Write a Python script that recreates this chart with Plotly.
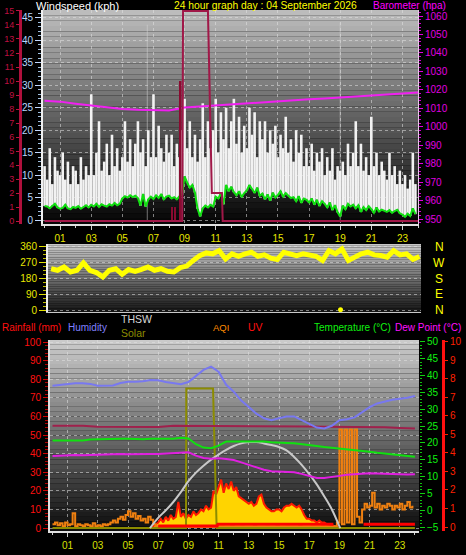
import plotly.graph_objects as go

W, H = 466, 555
def px(x): return x / W
def py(y): return 1 - y / H

FONT = "Liberation Sans"

# ---------------- DATA ----------------
# Top panel: wind (kph), 10-minute samples
wind_avg = [
    3.1, 3.0, 2.6, 3.2, 3.6, 2.8,   2.5, 2.7, 3.4, 2.6, 2.4, 2.9,
    2.7, 3.1, 2.5, 2.9, 3.3, 2.8,   3.4, 3.0, 3.6, 2.9, 3.5, 3.2,
    3.0, 3.5, 3.2, 3.8, 3.3, 3.6,   4.8, 5.3, 5.0, 5.5, 5.1, 5.4,
    4.9, 3.2, 5.8, 3.0, 4.6, 5.2,   4.7, 5.5, 4.9, 5.8, 4.6, 5.2,
    5.4, 4.8, 5.1, 4.6, 5.3, 5.6,   9.7, 8.3, 7.2, 7.8, 6.1, 2.5,
    0.8, 2.6, 3.2, 2.8, 3.4, 3.0,   5.2, 4.8, 6.0, 3.5, 7.8, 6.4,
    7.4, 6.2, 5.5, 6.4, 5.1, 6.0,   6.6, 7.8, 6.9, 6.0, 7.2, 5.4,
    5.9, 4.6, 5.7, 4.3, 6.1, 5.0,   5.6, 6.4, 5.2, 6.0, 5.4, 4.9,
    5.1, 4.2, 5.3, 3.8, 4.8, 4.5,   3.9, 4.8, 3.4, 4.5, 3.1, 4.2,
    3.6, 2.8, 3.9, 2.2, 3.3, 1.7,   0.8, 3.2, 2.4, 3.6, 3.0, 3.4,
    2.6, 3.3, 1.8, 2.9, 2.2, 3.1,   2.4, 1.6, 2.8, 1.9, 2.3, 2.1,
    1.8, 2.2, 1.6, 2.0, 2.3, 1.5,   1.2, 0.7, 1.4, 0.9, 2.6, 1.3,
]
wind_gust = [
    12, 9, 16, 8, 14, 11,    10, 15, 9, 13, 8, 12,
    11, 8, 14, 9, 12, 10,    28, 10, 15, 22, 11, 13,
    17, 10, 19, 12, 16, 11,  14, 22, 13, 18, 12, 17,
    22, 15, 18, 12, 20, 14,  28, 14, 21, 16, 13, 19,
    15, 19, 12, 17, 14, 20,  27, 16, 22, 14, 19, 13,
    18, 26, 14, 22, 16, 20,  27, 15, 24, 18, 25, 16,
    22, 27, 17, 23, 15, 21,  16, 25, 19, 24, 14, 22,
    18, 22, 15, 20, 17, 21,  14, 19, 16, 23, 15, 18,
    13, 20, 15, 19, 12, 16,  12, 17, 11, 15, 13, 16,
    10, 14, 11, 16, 9, 12,   11, 13, 10, 17, 12, 15,
    22, 12, 17, 11, 14, 10,  23, 12, 15, 10, 13, 11,
    9, 15, 10, 12, 8, 11,    8, 10, 7, 9, 15, 8,
]
wind_hours = [i / 6 for i in range(len(wind_avg))]
gust_max_hours = [6.6, 19.0]
gust_max_vals = [43.5, 44.0]

baro_hours = list(range(25))
baro_vals = [1014.1, 1013.6, 1012.5, 1011.5, 1010.2, 1009.6, 1009.2, 1008.9, 1008.8,
             1010.4, 1011.0, 1011.6, 1012.2, 1012.4, 1013.0, 1013.6, 1014.3, 1014.9,
             1015.3, 1015.8, 1016.3, 1016.9, 1017.4, 1018.0, 1018.5]

rain_rate_hours = [0, 8.85, 8.9, 10.5, 10.75, 11.4, 11.45, 24]
rain_rate_vals = [0, 0, 15, 15, 2, 2, 0, 0]
rain_bar_hours = [8.2, 8.4, 8.75]
rain_bar_vals = [1, 1, 10]

# Middle panel: wind direction (degrees)
dir_vals = [236, 227, 246, 217, 227, 270, 227, 214, 189, 227, 236, 204, 231, 221,
            232, 246, 227, 236, 221, 217, 242, 251, 283, 311, 326, 321, 339, 292,
            321, 307, 321, 330, 307, 315, 296, 289, 330, 321, 311, 321, 311, 307,
            283, 339, 321, 349, 283, 302, 321, 330, 315, 311, 302, 339, 315, 321,
            289, 306]
dir_hours = [0.1 + i * (23.9 - 0.1) / (len(dir_vals) - 1) for i in range(len(dir_vals))]
dir_dot_hours = [18.8]
dir_dot_vals = [2]
compass_vals = [0, 90, 180, 270, 360]
compass_text = ["N", "E", "S", "W", "N"]

# Bottom panel (half-hourly)
half_hours = [i / 2 for i in range(49)]
humidity = [76.5, 77, 77.5, 77.8, 77.8, 77.5, 76.5, 76.4, 76.6, 78, 78.6, 78.7, 78.9,
            79.6, 79.5, 78.5, 78, 77.3, 78.5, 82, 85, 86.8, 84, 77, 73.3, 68.5, 65,
            61.5, 59, 58, 59, 60, 60, 58, 56, 54, 53.5, 55, 58, 58.5, 59.5, 62.5, 65,
            67, 68, 69, 69.5, 70, 71]
temperature = [20.7, 20.7, 20.6, 20.6, 20.7, 21.0, 21.1, 21.1, 21.1, 21.2, 21.2, 21.1,
               21.1, 21.2, 21.2, 21.2, 21.2, 21.5, 21.3, 19.6, 18.6, 18.4, 19.2, 20.4,
               20.4, 20.5, 20.5, 20.5, 20.4, 20.2, 20.0, 20.0, 19.9, 19.7, 19.4, 19.1,
               18.8, 18.6, 18.4, 18.1, 17.9, 17.6, 17.4, 17.1, 16.9, 16.6, 16.4, 16.1, 15.9]
dewpoint = [16.1, 16.2, 16.4, 16.4, 16.3, 16.4, 16.5, 16.5, 16.7, 16.7, 16.6, 16.7, 16.8,
            16.7, 16.7, 16.8, 16.8, 17.1, 17.2, 16.2, 15.5, 15.3, 15.4, 15.2, 14.9, 14.2,
            13.5, 12.8, 12.0, 11.6, 11.5, 11.6, 11.3, 10.8, 10.2, 9.6, 9.6, 10.0, 10.2,
            10.5, 10.7, 10.8, 11.0, 10.9, 10.8, 10.6, 10.5, 10.6, 10.7]
heat_line_hours = list(range(25))
heat_line_vals = [55, 55, 55, 54.4, 54.3, 54.3, 54.3, 54.3, 55, 55, 55, 55, 54.8, 54.8,
                  54.7, 54.7, 54.6, 54.6, 54.5, 54.5, 54.5, 54.4, 54.2, 53.8, 53.5]

thsw_hours = [6.45, 7.0, 7.5, 8.0, 8.5, 9.0, 9.5, 10.0, 10.5, 11.0, 11.5, 12.0, 12.5,
              13.0, 13.5, 14.0, 14.5, 15.0, 15.5, 16.0, 16.5, 17.0, 17.5, 18.0, 18.5, 19.05]
thsw_vals = [0, 5.5, 9.5, 14, 19.3, 25.2, 29.8, 33.5, 36.8, 39.5, 42, 44.1, 45.5, 46.2,
             46.2, 45.5, 44.6, 43.6, 41.8, 38.2, 34, 29, 23.5, 17, 10, 0]

solar_hours = [0, 8.84, 8.86, 9.15, 10.63, 10.87, 24]
solar_vals = [0, 0, 75, 75, 75, 0, 0]

sun_vals = [0, 1, 2, 3, 5, 3, 6, 4, 7, 5, 6, 14, 6, 8, 5, 7, 6, 9, 7, 8, 10, 9, 12, 10,
            11, 20, 18, 22, 26, 19, 24, 21, 25, 20, 22, 17, 16, 15, 14, 13, 14, 12, 13,
            17, 18, 13, 11, 10, 9, 9, 10, 10, 9, 11, 12, 12, 13, 12, 11, 12, 10, 7, 5,
            5, 4, 4, 3, 4, 3, 3, 2, 2, 1.5, 1, 0.5, 0]
sun_hours = [6.5 + i / 6 for i in range(len(sun_vals))]

aqi_vals = [
    2, 3, 1.5, 2.5, 1, 3,        1.5, 2, 8, 1, 2, 1.5,
    1, 2, 1.5, 1, 2.5, 1,        1.5, 1, 2, 1.5, 2, 3,
    4, 3, 5, 6, 4.5, 7,          9, 6, 8, 5, 6.5, 4,
    5, 3, 6, 4.5, 2, 1,          0.5, 0.8, 0.5, 1, 0.6, 0.5,
    0.5, 0.7, 0.5, 0.9, 0.5, 0.6, 0.5, 0.8, 0.6, 0.5, 0.7, 0.5,
    0.6, 0.5, 0.8, 0.5, 0.6, 0.5, 0.5, 0.7, 0.5, 0.6, 0.5, 0.8,
    0.5, 0.6, 0.5, 0.7, 0.5, 0.5, 0.6, 0.5, 0.8, 0.5, 0.6, 0.5,
    0.5, 0.7, 0.5, 0.6, 0.5, 0.8, 0.5, 0.6, 0.5, 0.7, 0.5, 0.5,
    0.6, 0.5, 0.8, 0.5, 0.6, 0.5, 0.5, 0.7, 0.5, 0.6, 0.5, 0.8,
    0.5, 0.5, 1, 0.5, 1, 3,      53, 2, 53, 3, 53, 2,
    53, 6, 3, 10, 13, 11,        12, 19, 11, 13, 10, 12,
    11, 13, 12, 10, 12, 11,      13, 10, 12, 14, 11, 12,
]
aqi_hours = [i / 6 for i in range(len(aqi_vals))]

uv_hours = [7.0, 10.9, 10.95, 18.6, None, 20.6, 24.0]
uv_vals = [0.05, 0.05, 0.15, 0.15, None, 0.15, 0.15]

odd_hour_labels = ["01", "03", "05", "07", "09", "11", "13", "15", "17", "19", "21", "23"]
odd_hours = [1, 3, 5, 7, 9, 11, 13, 15, 17, 19, 21, 23]

# ---------------- FIGURE ----------------
fig = go.Figure()

# top panel traces
fig.add_trace(go.Bar(x=gust_max_hours, y=gust_max_vals, width=0.06, xaxis="x", yaxis="y",
                     marker=dict(color="rgba(215,215,215,0.55)", line=dict(width=0))))
fig.add_trace(go.Bar(x=wind_hours, y=[g - a for g, a in zip(wind_gust, wind_avg)], base=wind_avg,
                     width=1 / 6, xaxis="x", yaxis="y",
                     marker=dict(color="#f2f2f2", line=dict(width=0))))
fig.add_trace(go.Bar(x=rain_bar_hours, y=rain_bar_vals, width=0.1, xaxis="x", yaxis="y3",
                     marker=dict(color="#8a0a30", line=dict(width=0))))
fig.add_trace(go.Scatter(x=rain_rate_hours, y=rain_rate_vals, mode="lines", xaxis="x", yaxis="y3",
                         line=dict(color="#a01848", width=2)))
fig.add_trace(go.Scatter(x=wind_hours, y=wind_avg, mode="lines", xaxis="x", yaxis="y",
                         line=dict(color="#10e010", width=2)))
fig.add_trace(go.Scatter(x=baro_hours, y=baro_vals, mode="lines", xaxis="x", yaxis="y2",
                         line=dict(color="#f020f0", width=2)))

# middle panel
fig.add_trace(go.Scatter(x=dir_hours, y=dir_vals, mode="lines", xaxis="x2", yaxis="y5",
                         line=dict(color="#ffff00", width=5)))
fig.add_trace(go.Scatter(x=dir_dot_hours, y=dir_dot_vals, mode="markers", xaxis="x2", yaxis="y5",
                         marker=dict(color="#ffff00", size=5)))

# bottom panel
fig.add_trace(go.Scatter(x=sun_hours, y=sun_vals, mode="lines", xaxis="x3", yaxis="y7",
                         fill="tozeroy", fillcolor="#ffd400", line=dict(color="#ff1a00", width=2)))
fig.add_trace(go.Scatter(x=aqi_hours, y=aqi_vals, mode="lines", xaxis="x3", yaxis="y7",
                         line=dict(color="#f08010", width=2, shape="hv")))
fig.add_trace(go.Scatter(x=uv_hours, y=uv_vals, mode="lines", xaxis="x3", yaxis="y10",
                         line=dict(color="#ff0000", width=3)))
fig.add_trace(go.Scatter(x=solar_hours, y=solar_vals, mode="lines", xaxis="x3", yaxis="y7",
                         line=dict(color="#8c8c00", width=2)))
fig.add_trace(go.Scatter(x=thsw_hours, y=thsw_vals, mode="lines", xaxis="x3", yaxis="y7",
                         line=dict(color="#c8c8c8", width=2, shape="spline")))
fig.add_trace(go.Scatter(x=heat_line_hours, y=heat_line_vals, mode="lines", xaxis="x3", yaxis="y7",
                         line=dict(color="#a0204c", width=2)))
fig.add_trace(go.Scatter(x=half_hours, y=dewpoint, mode="lines", xaxis="x3", yaxis="y9",
                         line=dict(color="#e020e0", width=2)))
fig.add_trace(go.Scatter(x=half_hours, y=temperature, mode="lines", xaxis="x3", yaxis="y9",
                         line=dict(color="#10e010", width=2)))
fig.add_trace(go.Scatter(x=half_hours, y=humidity, mode="lines", xaxis="x3", yaxis="y7",
                         line=dict(color="#7878f0", width=2)))

# ---------------- background gradients ----------------
shapes = []
def gradient(x0, x1, y0, y1, top, bot, n=40):
    for i in range(n):
        t = i / (n - 1)
        c = [round(top[k] + (bot[k] - top[k]) * t) for k in range(3)]
        ya = y0 + (y1 - y0) * i / n
        yb = y0 + (y1 - y0) * (i + 1) / n
        shapes.append(dict(type="rect", xref="paper", yref="paper", layer="below",
                           x0=px(x0), x1=px(x1), y0=py(yb), y1=py(ya),
                           fillcolor=f"rgb({c[0]},{c[1]},{c[2]})", line=dict(width=0)))

gradient(43, 418, 10, 224, (188, 188, 188), (6, 6, 6))
gradient(48, 421, 244, 312, (200, 200, 200), (22, 22, 22))
gradient(50, 419, 340, 531, (202, 202, 202), (14, 14, 14))

GRID = "rgba(225,225,225,0.55)"
tickfont = lambda c, s=10: dict(family=FONT, size=s, color=c)

top_dom = [py(224), py(10)]
mid_dom = [py(312), py(244)]
bot_dom = [py(531), py(340)]

fig.update_layout(
    width=W, height=H, template="none", showlegend=False, barmode="overlay",
    margin=dict(l=0, r=0, t=0, b=0), paper_bgcolor="black", plot_bgcolor="rgba(0,0,0,0)",
    font=dict(family=FONT, size=10),
    shapes=shapes,
    xaxis=dict(domain=[px(43), px(418)], range=[-0.1, 24.0], anchor="y",
               tickvals=odd_hours, ticktext=odd_hour_labels, tickfont=tickfont("#e8e800"),
               ticks="outside", ticklen=4, tickcolor="#d0d0d0",
               minor=dict(dtick=1, tick0=0, ticks="outside", ticklen=2, tickcolor="#d0d0d0", showgrid=False),
               showline=True, linecolor="#e0e0e0", linewidth=2,
               showgrid=True, gridcolor=GRID, griddash="dot", gridwidth=1, zeroline=False),
    yaxis=dict(domain=top_dom, range=[-0.89, 46.78], anchor="x", side="left",
               tick0=0, dtick=5, tickfont=tickfont("#b8d8ff"),
               ticks="outside", ticklen=6, tickcolor="#c0d8ff",
               minor=dict(dtick=1, ticks="outside", ticklen=3, tickcolor="#a0c0e0", showgrid=False),
               showline=True, linecolor="#f0f0f0", linewidth=2,
               showgrid=True, gridcolor=GRID, griddash="dot", zeroline=False),
    yaxis2=dict(range=[947.29, 1063.25], overlaying="y", anchor="x", side="right",
                tick0=950, dtick=10, tickfont=tickfont("#e000e0"),
                ticks="outside", ticklen=4, tickcolor="#e000e0",
                minor=dict(dtick=2, ticks="outside", ticklen=2, tickcolor="#d000d0"),
                showline=True, linecolor="#e8c8e8", linewidth=1, showgrid=False, zeroline=False),
    yaxis3=dict(range=[-0.21, 15.07], overlaying="y", anchor="free", position=px(20), side="left",
                tick0=0, dtick=1, tickfont=tickfont("#c01040", 9),
                ticks="outside", ticklen=3, tickcolor="#c01040",
                showline=True, linecolor="#b0103c", linewidth=3, showgrid=False, zeroline=False),
    yaxis4=dict(range=[-6.06, 50.5], overlaying="y", anchor="free", position=px(20), side="left",
                tick0=-5, dtick=5, tickfont=tickfont("#ffb8c8", 9),
                ticks="", showline=False, showgrid=False, zeroline=False),
    # middle panel
    xaxis2=dict(domain=[px(48), px(421)], range=[-0.1, 24.0], anchor="y5",
                showticklabels=False, ticks="", showline=True, linecolor="#c8c8c8", linewidth=1,
                showgrid=False, zeroline=False),
    yaxis5=dict(domain=mid_dom, range=[-11.4, 377.1], anchor="x2", side="left",
                tickvals=compass_vals, tickfont=tickfont("#e8e800"),
                ticks="outside", ticklen=7, tickcolor="#e0e000",
                minor=dict(dtick=22.5, ticks="outside", ticklen=3, tickcolor="#c0c000"),
                showline=True, linecolor="#f0f0f0", linewidth=2,
                showgrid=True, gridcolor=GRID, griddash="dot", zeroline=False),
    # bottom panel
    xaxis3=dict(domain=[px(50), px(419)], range=[-0.166, 24.27], anchor="y7",
                tickvals=odd_hours, ticktext=odd_hour_labels, tickfont=tickfont("#d8e000"),
                ticks="outside", ticklen=4, tickcolor="#d0d0d0",
                minor=dict(dtick=1, tick0=0, ticks="outside", ticklen=2, tickcolor="#d0d0d0", showgrid=False),
                showline=True, linecolor="#e0e0e0", linewidth=2,
                showgrid=True, gridcolor=GRID, griddash="dot", zeroline=False),
    yaxis7=dict(domain=bot_dom, range=[-1.6, 101.1], anchor="x3", side="left",
                tick0=0, dtick=10, tickfont=tickfont("#ff1010"),
                ticks="outside", ticklen=5, tickcolor="#d00000",
                minor=dict(dtick=2, ticks="outside", ticklen=3, tickcolor="#b00000"),
                showline=True, linecolor="#e0e0e0", linewidth=2,
                showgrid=True, gridcolor=GRID, griddash="dot", zeroline=False),
    yaxis8=dict(range=[-1.6, 101.1], overlaying="y7", anchor="free", position=px(29), side="left",
                tick0=0, dtick=10, tickfont=tickfont("#7070ff"),
                ticks="outside", ticklen=4, tickcolor="#7070ff",
                minor=dict(dtick=2, ticks="outside", ticklen=2, tickcolor="#6060e0"),
                showline=True, linecolor="#6a6af0", linewidth=3, showgrid=False, zeroline=False),
    yaxis9=dict(range=[-6.19, 50.59], overlaying="y7", anchor="x3", side="right",
                tick0=-5, dtick=5, tickfont=tickfont("#10f010"),
                ticks="outside", ticklen=5, tickcolor="#10d010",
                minor=dict(dtick=1, ticks="outside", ticklen=2, tickcolor="#10c010"),
                showline=False, showgrid=False, zeroline=False),
    yaxis10=dict(range=[-0.216, 10.1], overlaying="y7", anchor="free", position=px(443), side="right",
                 tick0=0, dtick=1, tickfont=tickfont("#ff2000"),
                 ticks="outside", ticklen=3, tickcolor="#ff2000",
                 showline=True, linecolor="#ff1010", linewidth=3, showgrid=False, zeroline=False),
)

# compass letters beside the wind-direction panel (positioned on the y5 scale)
for v, t in zip(compass_vals, compass_text):
    fig.add_annotation(text=t, x=px(439), y=v, xref="paper", yref="y5", xanchor="center",
                       yanchor="middle", showarrow=False,
                       font=dict(family=FONT, size=12, color="#ffff00"))

# titles / legend texts
def label(text, x, y, color, size=10, anchor="left"):
    fig.add_annotation(text=text, x=px(x), y=py(y), xref="paper", yref="paper",
                       xanchor=anchor, yanchor="middle", showarrow=False,
                       font=dict(family=FONT, size=size, color=color))

label("Windspeed (kph)", 34, 5.5, "#ffffff", 11)
label("24 hour graph day : 04 September 2026", 172, 5.5, "#ffff00", 10.3)
label("Barometer (hpa)", 371, 5.5, "#ff00ff", 10)

label("Rainfall (mm)", 0, 327, "#ff1010", 10)
label("Humidity", 66, 327, "#8080ff", 10)
label("THSW", 119, 319, "#d8d8d8", 10.5)
label("Solar", 119, 333, "#8c8c00", 10.5)
label("AQI", 211, 327, "#ff8c00", 9.5)
label("UV", 246, 327, "#ff1010", 10.5)
label("Temperature (°C)", 312, 327, "#10f010", 10)
label("Dew Point (°C)", 393, 327, "#ff10ff", 10)

fig.write_html("out.html", config={"displayModeBar": False},
               post_script="document.body.style.margin='0';")
